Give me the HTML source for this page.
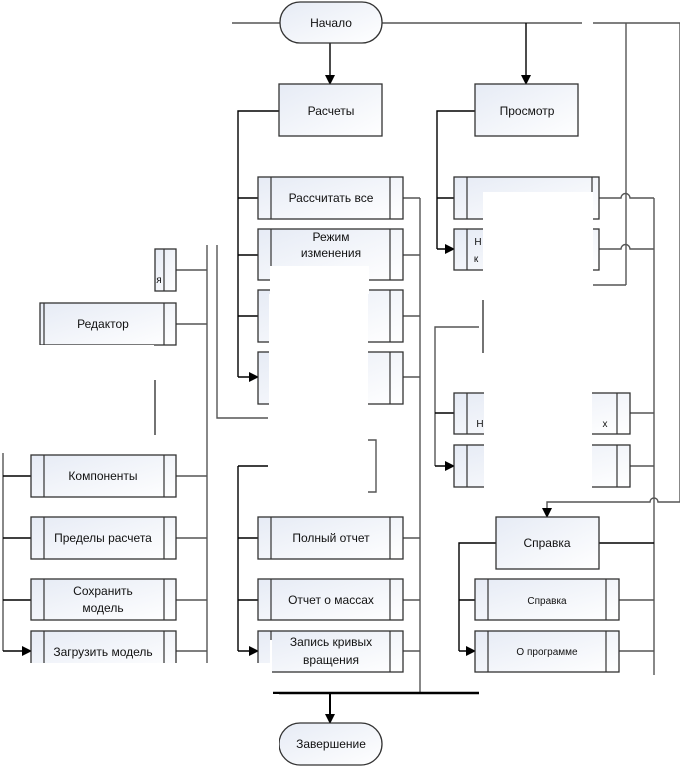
<!DOCTYPE html>
<html><head><meta charset="utf-8"><style>
html,body{margin:0;padding:0;background:#fff}
svg{display:block}
text{font-family:"Liberation Sans","DejaVu Sans",sans-serif;font-size:12px;fill:#111;text-anchor:middle}
</style></head><body>
<svg width="680" height="767" viewBox="0 0 680 767" xmlns="http://www.w3.org/2000/svg">
<defs>
<linearGradient id="g" x1="0" y1="0" x2="1" y2="1"><stop offset="0" stop-color="#e6ebf5"/><stop offset="1" stop-color="#ffffff"/></linearGradient>
<marker id="a" markerWidth="10" markerHeight="10" refX="9" refY="5" orient="auto" markerUnits="userSpaceOnUse"><path d="M0,0 L10,5 L0,10z" fill="#000"/></marker>
</defs>
<g stroke="#555" stroke-width="1.4" fill="none">
<path d="M232,23H280 M382,23H582 M593,23H680 M626,23V285 M680,23V502"/>
<path d="M330,43V84" stroke="#000" marker-end="url(#a)"/>
<path d="M526,23V84" stroke="#000" marker-end="url(#a)"/>
<path d="M279,111H238V377" stroke="#000"/>
<path d="M238,198H258 M238,255H258 M238,316H258 M238,377H258" stroke="#000" marker-end="url(#a)"/>
<path d="M403,198H420 M403,255H420 M403,316H420 M403,377H420 M420,198V693"/>
<path d="M238,466H268 M238,466V651" stroke="#000"/>
<path d="M238,538H258 M238,600H258 M238,651H258" stroke="#000" marker-end="url(#a)"/>
<path d="M403,538H420 M403,600H420 M403,651H420"/>
<path d="M273,693H479" stroke="#000" stroke-width="2.5"/>
<path d="M330,693V723" stroke="#000" stroke-width="2" marker-end="url(#a)"/>
<path d="M368,440H376V492H368"/>
<path d="M207,245V663 M217,245V418H268 M155,380V435"/>
<path d="M176,270H207 M176,324H207 M176,476H207 M176,538H207 M176,600H207 M176,651H207"/>
<path d="M3,452V651"/>
<path d="M3,476H31 M3,538H31 M3,600H31 M3,651H31" stroke="#000" marker-end="url(#a)"/>
<path d="M475,111H437V249" stroke="#000"/>
<path d="M437,198H454 M437,249H454" stroke="#000" marker-end="url(#a)"/>
<path d="M599,198H621 A4,4 0 0 1 630,198 H654 M599,249H621 A4,4 0 0 1 630,249 H654 M592,285H626 M654,198V675"/>
<path d="M483,300V353 M479,327H435V466"/>
<path d="M435,413H454 M435,466H454" stroke="#000" marker-end="url(#a)"/>
<path d="M630,413H654 M630,466H654"/>
<path d="M680,502H658 A4,4 0 0 0 650,502 H547 V517" marker-end="url(#a)"/>
<path d="M599,543H654 M496,543H459V651" stroke="#000"/>
<path d="M459,600H475 M459,651H475" stroke="#000" marker-end="url(#a)"/>
<path d="M619,600H654 M619,651H654"/>
</g>
<g stroke="#333" stroke-width="1.3" fill="url(#g)">
<rect x="280" y="2" width="102" height="41" rx="20"/>
<rect x="279" y="723" width="103" height="42" rx="21"/>
<rect x="279" y="84" width="103" height="52"/>
<rect x="475" y="84" width="103" height="52"/>
<rect x="496" y="517" width="103" height="52"/>
</g>
<g stroke="#333" stroke-width="1.3" fill="url(#g)">
<rect x="258" y="177" width="145" height="42"/><rect x="258" y="229" width="145" height="51"/><rect x="258" y="290" width="145" height="52"/><rect x="258" y="352" width="145" height="52"/>
<rect x="258" y="517" width="145" height="42"/><rect x="258" y="579" width="145" height="41"/><rect x="258" y="631" width="145" height="41"/>
<rect x="155" y="249" width="21" height="42"/><rect x="40" y="303" width="136" height="42"/>
<rect x="31" y="455" width="145" height="42"/><rect x="31" y="517" width="145" height="42"/><rect x="31" y="579" width="145" height="41"/><rect x="31" y="631" width="145" height="41"/>
<rect x="454" y="177" width="145" height="42"/><rect x="454" y="229" width="145" height="41"/>
<rect x="454" y="393" width="176" height="41"/><rect x="454" y="445" width="176" height="42"/>
<rect x="475" y="579" width="144" height="41"/><rect x="475" y="631" width="144" height="41"/>
</g>
<g stroke="#333" stroke-width="1.2">
<path d="M271,177V219 M390,177V219 M271,229V280 M390,229V280 M271,290V342 M390,290V342 M271,352V404 M390,352V404 M271,517V559 M390,517V559 M271,579V620 M390,579V620 M271,631V672 M390,631V672"/>
<path d="M164,249V291 M44,303V345 M164,303V345 M44,455V497 M164,455V497 M44,517V559 M164,517V559 M44,579V620 M164,579V620 M44,631V672 M164,631V672"/>
<path d="M467,177V219 M592,177V219 M467,229V270 M592,229V270 M467,393V434 M617,393V434 M467,445V487 M617,445V487 M488,579V620 M606,579V620 M488,631V672 M606,631V672"/>
</g>
<text x="331" y="27">Начало</text>
<text x="331" y="748">Завершение</text>
<text x="331" y="115">Расчеты</text>
<text x="527" y="115">Просмотр</text>
<text x="547" y="547">Справка</text>
<text x="331" y="202">Рассчитать все</text>
<text x="331" y="241">Режим</text><text x="331" y="257">изменения</text><text x="331" y="273">я</text>
<text x="360" y="381">й</text>
<text x="331" y="542">Полный отчет</text>
<text x="331" y="604">Отчет о массах</text>
<text x="331" y="646">Запись кривых</text><text x="331" y="664">вращения</text>
<text x="159" y="283" style="font-size:10px">я</text>
<text x="103" y="328">Редактор</text>
<text x="103" y="480">Компоненты</text>
<text x="103" y="542">Пределы расчета</text>
<text x="103" y="595">Сохранить</text><text x="103" y="612">модель</text>
<text x="103" y="656">Загрузить модель</text>
<text x="527" y="203">График масс</text>
<text x="478" y="245" style="font-size:10px">Н</text><text x="476" y="262" style="font-size:10px">к</text>
<text x="480" y="427" style="font-size:10px">Н</text><text x="605" y="427" style="font-size:10px">х</text>
<text x="547" y="604" style="font-size:10px">Справка</text>
<text x="547" y="655" style="font-size:10px">О программе</text>
<g fill="#fff">
<rect x="270" y="266" width="99" height="28"/>
<rect x="269" y="294" width="99" height="150"/>
<rect x="269" y="444" width="97" height="64"/>
<rect x="270" y="640" width="2" height="25"/>
<rect x="0" y="663" width="272" height="30"/>
<rect x="0" y="694" width="279" height="73"/>
<rect x="483" y="192" width="110" height="98"/>
<rect x="487" y="286" width="105" height="12"/>
<rect x="484" y="298" width="108" height="192"/>
<rect x="480" y="675" width="200" height="92"/>
<rect x="0" y="0" width="154" height="300"/>
<rect x="0" y="345" width="154" height="108"/>
</g>
<path d="M483,300V353" stroke="#555" stroke-width="1.4"/>
<path d="M155,380V435" stroke="#555" stroke-width="1.4"/>
</svg>
</body></html>
